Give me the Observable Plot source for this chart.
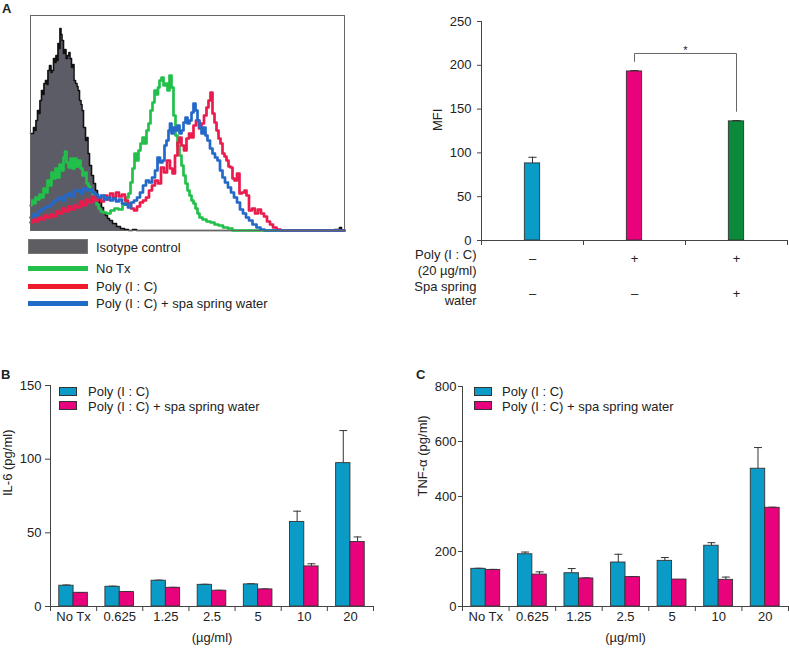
<!DOCTYPE html>
<html><head><meta charset="utf-8">
<script src="https://cdn.jsdelivr.net/npm/d3@7"></script>
<script src="https://cdn.jsdelivr.net/npm/@observablehq/plot@0.6"></script>
<style>
html,body{margin:0;padding:0;background:#fff;}
#root{position:relative;width:789px;height:648px;overflow:hidden;font-family:"Liberation Sans",Arial,sans-serif;color:#222;}
.abs{position:absolute;}
.lbl{position:absolute;font-size:13px;line-height:13px;white-space:nowrap;}
.panel{position:absolute;font-size:13px;font-weight:bold;line-height:13px;}
.sw{position:absolute;box-sizing:border-box;}
</style></head>
<body><div id="root"></div>
<script>
// ---------- Panel A: flow cytometry histograms (channel, count) ----------
const isotypeHist = [[0,97],[2,97],[4,103],[5,100],[6,110],[8,120],[9,117],[10,130],[12,140],[13,136],[14,147],[16,150],[17,146],[18,160],[20,165],[21,158],[22,160],[24,172],[25,168],[26,175],[27,170],[28,187],[29,182],[30,202],[31,196],[32,190],[34,177],[35,181],[36,172],[38,175],[39,178],[40,172],[42,163],[43,166],[44,150],[46,147],[47,144],[48,140],[50,130],[51,126],[52,120],[54,103],[56,90],[57,93],[58,77],[60,65],[62,55],[64,47],[66,40],[68,33],[70,28],[72,23],[74,18],[76,15],[78,12],[80,10],[84,7],[88,4],[92,2],[96,1],[100,0],[104,1],[108,0],[300,0],[308,1],[310,3],[312,0],[314,0]];
const noTxHist = [[0,25],[2,30],[4,27],[6,33],[8,31],[10,36],[12,33],[14,42],[16,38],[18,50],[20,45],[22,58],[24,52],[26,62],[28,53],[30,66],[32,60],[34,73],[35,79],[37,68],[39,63],[41,72],[43,62],[45,72],[47,64],[49,70],[51,62],[53,55],[55,58],[57,47],[59,44],[61,40],[63,35],[65,31],[67,26],[69,22],[71,19],[74,18],[78,17],[82,20],[86,22],[90,21],[94,26],[97,33],[99,37],[101,48],[103,62],[105,77],[107,70],[109,80],[111,87],[113,93],[115,87],[117,100],[119,107],[121,120],[123,128],[125,140],[127,136],[128,143],[130,150],[132,153],[134,145],[136,147],[138,140],[140,155],[142,143],[144,115],[146,95],[148,85],[150,75],[152,65],[154,55],[156,47],[158,40],[160,35],[162,30],[164,27],[166,22],[168,17],[170,13],[174,11],[178,9],[182,8],[186,6],[190,5],[195,3],[200,2],[204,0],[314,0]];
const polyHist = [[0,8],[3,11],[6,9],[9,13],[12,11],[15,15],[18,13],[21,16],[24,14],[27,19],[30,17],[33,22],[36,19],[39,24],[42,21],[45,25],[48,23],[51,29],[54,25],[57,31],[60,28],[63,34],[66,30],[69,33],[72,29],[75,35],[78,31],[81,37],[84,33],[87,38],[90,34],[93,36],[96,30],[99,27],[102,22],[105,20],[108,24],[111,28],[114,30],[117,33],[120,40],[123,45],[126,50],[129,47],[132,63],[135,58],[138,70],[141,62],[143,57],[146,75],[148,88],[150,93],[152,85],[155,80],[157,92],[160,97],[162,93],[164,105],[167,110],[170,102],[172,107],[175,115],[177,123],[179,130],[181,138],[183,117],[185,108],[187,100],[189,92],[191,87],[193,77],[195,74],[197,70],[199,64],[201,63],[203,52],[205,50],[208,57],[210,37],[213,38],[215,40],[217,35],[220,20],[223,22],[226,17],[229,21],[232,17],[235,14],[238,9],[241,6],[244,3],[248,1],[252,0],[314,0]];
const polySpaHist = [[0,13],[3,16],[6,15],[9,19],[12,21],[15,23],[18,24],[21,26],[24,29],[27,31],[30,33],[33,30],[36,35],[39,37],[42,34],[45,40],[48,40],[51,37],[54,42],[57,40],[60,41],[63,38],[66,36],[69,33],[72,35],[75,31],[78,33],[81,30],[84,32],[87,29],[90,31],[93,27],[96,26],[99,23],[102,28],[105,30],[108,33],[111,38],[114,45],[117,50],[120,48],[123,53],[126,60],[128,73],[131,68],[133,70],[135,85],[137,90],[139,100],[140,107],[142,97],[144,103],[146,100],[148,105],[150,97],[152,100],[154,108],[156,113],[158,107],[160,110],[162,118],[164,127],[166,120],[168,110],[170,103],[172,97],[174,103],[176,95],[178,90],[181,82],[183,77],[186,73],[188,70],[191,60],[193,53],[196,48],[199,43],[202,38],[205,33],[208,28],[211,21],[214,17],[217,13],[220,10],[224,6],[228,3],[232,1],[236,0],[314,0]];
const histLegend = ["Isotype control","No Tx","Poly (I : C)","Poly (I : C) + spa spring water"];

// ---------- Panel A: MFI ----------
const mfiValues = [88, 193, 136];
const mfiErrors = [7, 1, 1];
const mfiPolySigns = ["–", "+", "+"];
const mfiSpaSigns = ["–", "–", "+"];
const mfiTicks = [0, 50, 100, 150, 200, 250];

// ---------- Panels B & C ----------
const doses = ["No Tx", "0.625", "1.25", "2.5", "5", "10", "20"];
const seriesNames = ["Poly (I : C)", "Poly (I : C) + spa spring water"];
const il6Poly = [14.1, 13.4, 17.5, 14.7, 15.0, 57.4, 97.3];
const il6PolyErr = [0.5, 0.4, 0.4, 0.4, 0.4, 7.3, 22.1];
const il6Spa = [9.3, 9.8, 12.7, 10.7, 11.6, 27.2, 43.8];
const il6SpaErr = [0.2, 0.3, 0.3, 0.3, 0.3, 1.8, 3.4];
const il6Ticks = [0, 50, 100, 150];
const tnfPoly = [137, 190, 121, 160, 166, 221, 501];
const tnfPolyErr = [2, 8, 17, 30, 12, 11, 77];
const tnfSpa = [133, 116, 102, 107, 98, 97, 359];
const tnfSpaErr = [2, 10, 2, 2, 0, 10, 2];
const tnfTicks = [0, 200, 400, 600, 800];

const FONT = '"Liberation Sans", Arial, sans-serif';
const GRAYFILL = "#5c5c66", GREEN = "#22c04b", RED = "#ea1b4d", HBLUE = "#2468c8";
const BLUE = "#0a9bc7", PINK = "#e8037c", DGREEN = "#0b8a3c";
const AX = "#444";
const root = document.getElementById("root");

function place(el, left, top) {
  const d = document.createElement("div");
  d.className = "abs"; d.style.left = left + "px"; d.style.top = top + "px";
  d.appendChild(el); root.appendChild(d);
}
function label(text, left, top, extra) {
  const d = document.createElement("div");
  d.className = "lbl"; d.textContent = text;
  d.style.left = left + "px"; d.style.top = top + "px";
  if (extra) Object.assign(d.style, extra);
  root.appendChild(d); return d;
}
function panel(text, left, top) {
  const d = document.createElement("div");
  d.className = "panel"; d.textContent = text;
  d.style.left = left + "px"; d.style.top = top + "px"; root.appendChild(d);
}
function swatch(left, top, w, h, color, border) {
  const d = document.createElement("div");
  d.className = "sw"; Object.assign(d.style, {left: left+"px", top: top+"px", width: w+"px", height: h+"px", background: color, border: border || "none"});
  root.appendChild(d);
}
const baseStyle = {fontFamily: FONT, fontSize: "13px", color: "#222", background: "transparent", overflow: "visible"};
// downward tick marks at group boundaries (no text)
const boundaryTicks = n => Plot.ruleX(d3.range(n + 1), {y1: 0, y2: 0, insetBottom: -5, stroke: AX});

// ---- Histogram ----
const hx = d => d[0], hy = d => d[1];
const hist = Plot.plot({
  width: 360, height: 240, marginLeft: 30, marginRight: 16, marginTop: 15, marginBottom: 10,
  x: {domain: [0, 314], axis: null}, y: {domain: [0, 215], axis: null},
  style: baseStyle,
  marks: [
    Plot.areaY(isotypeHist, {x: hx, y: hy, curve: "step", fill: GRAYFILL}),
    Plot.lineY(isotypeHist, {x: hx, y: hy, curve: "step", stroke: "#111", strokeWidth: 1.6}),
    Plot.lineY(noTxHist, {x: hx, y: hy, curve: "step", stroke: GREEN, strokeWidth: 2.7}),
    Plot.lineY(polyHist, {x: hx, y: hy, curve: "step", stroke: RED, strokeWidth: 2.7}),
    Plot.lineY(polySpaHist, {x: hx, y: hy, curve: "step", stroke: HBLUE, strokeWidth: 2.7}),
    Plot.frame({stroke: "#666"})
  ]
});
place(hist, 0, 0);
panel("A", 2, 2);
swatch(28, 239, 60, 15, "#5e5e62", "1px solid #777");
swatch(28, 266, 60, 5, GREEN);
swatch(28, 284, 60, 5, "#ee1c2a");
swatch(28, 301, 60, 5, "#1f6cc6");
label(histLegend[0], 96, 241);
label(histLegend[1], 96, 262);
label(histLegend[2], 96, 280);
label(histLegend[3], 96, 297);

// ---- MFI bar chart ----
const mfiRows = mfiValues.map((v, i) => ({i, v, e: mfiErrors[i], c: [BLUE, PINK, DGREEN][i]}));
const bw = 0.075, cap = 0.04;
const bTop = d3.max(mfiValues) + 20.5;
const mfi = Plot.plot({
  width: 409, height: 320, marginLeft: 101, marginRight: 2, marginTop: 21, marginBottom: 80,
  x: {domain: [0, 3], axis: null}, y: {domain: [0, 250]},
  style: baseStyle,
  marks: [
    Plot.rect(mfiRows, {x1: d => d.i + 0.5 - bw, x2: d => d.i + 0.5 + bw, y1: 0, y2: "v", fill: "c", stroke: "#333", strokeWidth: 0.9}),
    Plot.ruleX(mfiRows, {x: d => d.i + 0.5, y1: "v", y2: d => d.v + d.e, stroke: "#333"}),
    Plot.link(mfiRows, {x1: d => d.i + 0.5 - cap, x2: d => d.i + 0.5 + cap, y1: d => d.v + d.e, y2: d => d.v + d.e, stroke: "#333"}),
    // significance bracket between bars 2 and 3
    Plot.link([mfiRows[1]], {x1: d => d.i + 0.5, x2: d => d.i + 0.5, y1: d => d.v + 11, y2: bTop, stroke: "#666"}),
    Plot.link([0], {x1: 1.5, x2: 2.5, y1: bTop, y2: bTop, stroke: "#666"}),
    Plot.link([mfiRows[2]], {x1: d => d.i + 0.5, x2: d => d.i + 0.5, y1: d => d.v + 11, y2: bTop, stroke: "#666"}),
    Plot.text(["*"], {x: 2, y: bTop + 3, fontSize: 11}),
    Plot.ruleX([0], {stroke: AX}),
    Plot.ruleY([0], {stroke: AX}),
    Plot.axisY({ticks: mfiTicks, tickSize: 4, tickPadding: 6, label: null, stroke: AX}),
    boundaryTicks(3),
    Plot.text(["MFI"], {frameAnchor: "left", dx: -44, rotate: -90}),
    Plot.text(mfiPolySigns, {x: (d, i) => i + 0.5, text: d => d, frameAnchor: "bottom", dy: 22}),
    Plot.text(mfiSpaSigns, {x: (d, i) => i + 0.5, text: d => d, frameAnchor: "bottom", dy: 57}),
    Plot.text(["Poly (I : C)"], {frameAnchor: "bottom-left", dx: -5, dy: 18.5, textAnchor: "end"}),
    Plot.text(["(20 µg/ml)"], {frameAnchor: "bottom-left", dx: -5, dy: 34, textAnchor: "end"}),
    Plot.text(["Spa spring"], {frameAnchor: "bottom-left", dx: -5, dy: 50, textAnchor: "end"}),
    Plot.text(["water"], {frameAnchor: "bottom-left", dx: -5, dy: 64, textAnchor: "end"})
  ]
});
place(mfi, 380, 0);

// ---- Grouped bar charts ----
function grouped(o) {
  const n = doses.length, w = 0.31, c = 0.085;
  const rows = doses.map((d, i) => [
    {i, c: i + 0.5 - w / 2, x1: i + 0.5 - w, x2: i + 0.5, v: o.a[i], e: o.ae[i], f: BLUE},
    {i, c: i + 0.5 + w / 2, x1: i + 0.5, x2: i + 0.5 + w, v: o.b[i], e: o.be[i], f: PINK}
  ]).flat();
  return Plot.plot({
    width: o.width, height: 308, marginLeft: o.ml, marginRight: o.mr, marginTop: o.mt, marginBottom: 42,
    x: {domain: [0, n], axis: null}, y: {domain: [0, o.max]},
    style: baseStyle,
    marks: [
      Plot.ruleX(rows.filter(d => d.e > 0), {x: "c", y1: "v", y2: d => d.v + d.e, stroke: "#333"}),
      Plot.link(rows, {x1: d => d.c - c, x2: d => d.c + c, y1: d => d.v + d.e, y2: d => d.v + d.e, stroke: "#333"}),
      Plot.rect(rows, {x1: "x1", x2: "x2", y1: 0, y2: "v", fill: "f", stroke: "#333", strokeWidth: 0.9}),
      Plot.ruleX([0], {stroke: AX}),
      Plot.ruleY([0], {stroke: AX}),
      Plot.axisY({ticks: o.ticks, tickSize: o.ts, tickPadding: o.tp, label: null, stroke: AX}),
      boundaryTicks(n),
      Plot.text(doses, {x: (d, i) => i + 0.5, text: d => d, frameAnchor: "bottom", dy: 14}),
      Plot.text(["(µg/ml)"], {x: () => n / 2, frameAnchor: "bottom", dy: 35}),
      Plot.text([o.label], {frameAnchor: "left", dx: o.ldx, rotate: -90})
    ]
  });
}
place(grouped({a: il6Poly, ae: il6PolyErr, b: il6Spa, be: il6SpaErr, max: 150, ticks: il6Ticks,
  width: 390, ml: 50, mr: 17, mt: 45, ts: 5, tp: 4, label: "IL-6 (pg/ml)", ldx: -43}), 0, 340);
place(grouped({a: tnfPoly, ae: tnfPolyErr, b: tnfSpa, be: tnfSpaErr, max: 800, ticks: tnfTicks,
  width: 389, ml: 62, mr: 1, mt: 46, ts: 4, tp: 2, label: "TNF-α (pg/ml)", ldx: -40}), 400, 340);

panel("B", 1, 368);
panel("C", 416, 368);
// legends B and C
[[59, 88], [474, 502]].forEach(([sx, tx]) => {
  swatch(sx, 387, 18, 9, BLUE, "1px solid #333");
  swatch(sx, 401, 18, 9, PINK, "1px solid #333");
  label(seriesNames[0], tx, 385);
  label(seriesNames[1], tx, 400);
});
</script></body></html>
